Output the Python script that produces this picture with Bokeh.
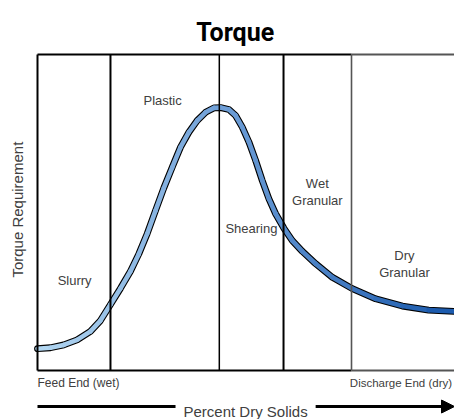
import numpy as np
from bokeh.plotting import figure
from bokeh.models import Range1d, Arrow, NormalHead
from bokeh.core.properties import value
from bokeh.embed import file_html
from bokeh.resources import INLINE

# ---- data (percent dry solids vs torque requirement, 0-100 scales) ----
solids = [0, 3.1, 6.3, 9.5, 12.7, 15.1, 17.5, 19.9, 22.3, 24.3, 26.3, 28.3,
          30.3, 32.3, 34.3, 36.3, 38.3, 40.3, 42.3, 43.9, 45.9, 47.5, 49.1,
          50.7, 52.3, 53.9, 55.5, 57.1, 59.1, 61.1, 63.5, 66.7, 70.7, 75.5,
          81.1, 87.5, 93.8, 100]
torque = [6.9, 7.2, 8.1, 9.7, 12.4, 15.8, 20.9, 26.0, 31.4, 36.9, 43.3, 50.6,
          57.8, 64.3, 70.7, 75.4, 79.1, 81.7, 83.1, 83.2, 82.6, 80.7, 77.0,
          72.3, 66.5, 60.1, 54.3, 49.6, 45.0, 41.1, 37.7, 33.8, 29.5, 25.9,
          22.7, 20.4, 19.1, 18.7]
zone_bounds = [17.5, 43.6, 59.0, 75.3]
zone_names = ["Slurry", "Plastic", "Shearing", "Wet\nGranular", "Dry\nGranular"]
zone_label_x = [8.9, 30.0, 51.3, 67.1, 88.0]
zone_label_y = [28.5, 85.4, 44.9, 56.5, 33.7]
end_labels = ["Feed End (wet)", "Discharge End (dry)"]
end_label_x = [0, 74.9]

PX_X = 4.17   # pixels per x unit
PX_Y = 3.16   # pixels per y unit
W, H = 454, 419
LEFT, BOTTOM = 37, 370  # frame left / bottom in canvas px

p = figure(width=W, height=H, output_backend="svg", toolbar_location=None,
           x_range=Range1d(-LEFT / PX_X, (W - LEFT) / PX_X),
           y_range=Range1d(-(H - BOTTOM) / PX_Y, BOTTOM / PX_Y),
           min_border=0, min_border_left=0, min_border_right=0,
           min_border_top=0, min_border_bottom=0)
p.axis.visible = False
p.grid.visible = False
p.outline_line_color = None
p.background_fill_color = "white"
p.border_fill_color = "white"

font = value("Liberation Sans")
grey_txt = "#404040"

# ---- curve: black outline, gradient fill ----
p.line(solids, torque, line_color="black", line_width=6.8, line_join="round", line_cap="round")

stops_t = [0.0, 0.44, 1.0]
stops_c = [(180, 216, 242), (112, 160, 216), (24, 88, 172)]


def col(t):
    r = np.interp(t, stops_t, [c[0] for c in stops_c])
    g = np.interp(t, stops_t, [c[1] for c in stops_c])
    b = np.interp(t, stops_t, [c[2] for c in stops_c])
    return "#%02x%02x%02x" % (int(r), int(g), int(b))


xs0, ys0, xs1, ys1, cols = [], [], [], [], []
for i in range(len(solids) - 1):
    xs0.append(solids[i]); ys0.append(torque[i])
    xs1.append(solids[i + 1]); ys1.append(torque[i + 1])
    cols.append(col((solids[i] + solids[i + 1]) / 200))
p.segment(xs0, ys0, xs1, ys1, line_color=cols, line_width=4.6, line_cap="round")

# ---- frame and zone dividers ----
xmax = (W - LEFT) / PX_X + 2
p.segment([0, 0, 0], [0, 100, 0], [0, zone_bounds[-1], zone_bounds[-1]], [100, 100, 0],
          line_color="black", line_width=2)
p.segment([zone_bounds[-1], zone_bounds[-1]], [100, 0], [xmax, xmax], [100, 0],
          line_color="#555555", line_width=1.8)
p.segment(zone_bounds, [0] * 4, zone_bounds, [100] * 4,
          line_color=["black", "black", "black", "#555555"],
          line_width=[2, 1.5, 2, 1.6])

# ---- zone labels ----
p.text(zone_label_x, zone_label_y, text=zone_names, text_font=font,
       text_font_size="13px", text_color=grey_txt, text_align="center",
       text_baseline="middle", text_line_height=1.15)

# ---- end labels ----
p.text(end_label_x, [-4.0, -4.0], text=end_labels, text_font=font,
       text_font_size=["12px", "11.5px"], text_color=grey_txt, text_align="left",
       text_baseline="middle")

# ---- title ----
p.text([47.4], [107.0], text=["Torque"], text_font=value("Roboto"),
       text_font_style="bold", text_font_size="25px", text_color="black",
       text_align="center", text_baseline="alphabetic")

# ---- y label ----
p.text([-4.8], [50.9], text=["Torque Requirement"], text_font=font,
       text_font_size="15px", text_color=grey_txt, text_align="center",
       text_baseline="middle", angle=np.pi / 2)

# ---- x label with arrow ----
arrow_y = -11.4
p.segment([0], [arrow_y], [33.1], [arrow_y], line_color="black", line_width=3)
p.add_layout(Arrow(end=NormalHead(size=13, fill_color="black", line_color="black"),
                   x_start=66.7, y_start=arrow_y, x_end=100, y_end=arrow_y,
                   line_color="black", line_width=3))
p.text([49.9], [-12.97], text=["Percent Dry Solids"], text_font=font,
       text_font_size="15px", text_color=grey_txt, text_align="center",
       text_baseline="alphabetic")

open("out.html", "w").write(file_html(p, INLINE))
